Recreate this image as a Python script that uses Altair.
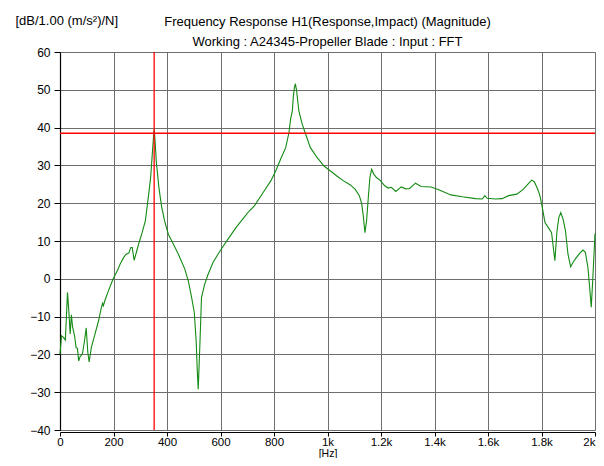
import altair as alt
import pandas as pd

# ---- data (frequency in Hz, magnitude in dB) ----
freq_lo = [0, 5.5, 13, 20, 28, 33, 38, 42.6, 47, 55, 60, 65, 70, 75, 80, 84, 92, 98, 104, 109,
           117, 129, 144, 154, 159, 162, 168.5, 181, 198, 215.5, 225, 237.6, 247, 257, 265, 270,
           277, 282, 294, 307, 319]
db_lo = [-20, -15.1, -15.5, -16.2, -3.6, -8.5, -14.6, -9.5, -12.7, -15.3, -18.2, -18.4, -21.7,
         -20.6, -20.2, -19.8, -16.2, -13, -19.5, -22, -18.2, -15.1, -11.1, -7.8, -6.5, -7.1, -5.6,
         -3.2, -0.1, 2.3, 3.9, 5.6, 6.5, 6.8, 8.3, 8.3, 4.9, 6.1, 9.2, 12.2, 15.3]

freq_r1 = [331, 339, 344, 349, 352, 355, 360, 370, 380, 391, 405, 418, 442.6, 467, 480, 492, 502,
           509, 513, 516.7, 520, 523, 529, 541, 553.7, 572, 590.7, 603]
db_r1 = [22, 27, 32, 37, 39.5, 37, 31, 24, 19, 15.3, 11.8, 10, 6.5, 2.5, -0.7, -4.9, -8.9,
         -16.4, -24, -29.2, -23, -17.3, -4.9, -1.4, 1.2, 4.3, 6.5, 7.9]

freq_r2 = [628, 658.5, 689.6, 708, 726.7, 763.7, 788, 806.7, 825, 843.7, 856, 862, 868.5, 872, 876,
           880, 884, 888, 893, 905.5, 918, 936, 961, 986, 1010, 1035, 1060, 1084, 1103]
db_r2 = [10.5, 13.6, 16.4, 18, 19.3, 23.3, 25.9, 28.6, 31.7, 34.7, 38.7, 42.2, 44.4, 48, 50.5,
         51.6, 50, 47.5, 44.4, 40.9, 38.3, 34.7, 32.1, 29.9, 28.6, 27.2, 25.9, 24.9, 23.7]

freq_mid = [1119, 1128, 1134, 1140, 1146, 1152.6, 1158.5, 1165, 1173, 1183, 1195.6, 1214, 1226.7,
            1239, 1255, 1276, 1292, 1307, 1329, 1350]
db_mid = [22, 19.8, 16.5, 12.2, 15.3, 21.5, 26.8, 29, 27.7, 26.8, 26.1, 24.6, 24, 24.2, 23.1,
          24.3, 23.8, 23.9, 25.3, 24.4]

freq_plat = [1387, 1418, 1461, 1504, 1554, 1578.5, 1588, 1597, 1628, 1652.6, 1677, 1708, 1732.6,
             1751, 1763.6, 1773, 1786, 1794]
db_plat = [24.3, 23.5, 22.2, 21.7, 21.2, 21.1, 22, 21.3, 21.1, 21.2, 22, 22.4, 23.7, 25.2, 26.1,
           25.7, 23.7, 22]

freq_hi = [1803, 1813, 1825, 1837.6, 1850, 1858, 1864.8, 1872, 1880.7, 1889.6, 1899, 1909, 1917.6,
           1930, 1942.6, 1955, 1964, 1973.5, 1980, 1986, 1992, 2000]
db_hi = [18.9, 14.9, 13.6, 12.2, 4.8, 12.7, 16.2, 17.5, 15.8, 12.7, 6.5, 3.2, 4.3, 5.6, 6.7, 7.6,
         7, 3, -2.3, -7.5, 0.3, 12]

cursor_freq = [352]
cursor_db = [38.5]

x_tick_values = [0, 200, 400, 600, 800, 1000, 1200, 1400, 1600, 1800, 2000]
x_tick_labels = ["0", "200", "400", "600", "800", "1k", "1.2k", "1.4k", "1.6k", "1.8k", "2k"]
y_tick_values = [-40, -30, -20, -10, 0, 10, 20, 30, 40, 50, 60]

title_text = "Frequency Response H1(Response,Impact) (Magnitude)"
subtitle_text = "Working : A24345-Propeller Blade : Input : FFT"
y_unit = "[dB/1.00 (m/s²)/N]"
x_unit = "[Hz]"

freq = freq_lo + freq_r1 + freq_r2 + freq_mid + freq_plat + freq_hi
db = db_lo + db_r1 + db_r2 + db_mid + db_plat + db_hi
assert len(freq) == len(db)

df = pd.DataFrame({"f": freq, "db": db})

FONT = "Liberation Sans"
label_expr = "[" + ",".join("'%s'" % s for s in x_tick_labels) + "][round(datum.value/200)]"

x_scale = alt.Scale(domain=[0, 2000], nice=False, zero=False)
y_scale = alt.Scale(domain=[-40, 60], nice=False, zero=False)

x_axis = alt.Axis(values=x_tick_values, labelExpr=label_expr, title=x_unit, offset=2,
                  grid=True, gridColor="#6e6e6e", gridOpacity=1, gridWidth=1,
                  domainColor="black", domainWidth=1.2, tickColor="black", tickSize=4,
                  labelFont=FONT, labelFontSize=11.5, labelColor="black", labelPadding=0,
                  labelFlush=False, labelOverlap=False,
                  labelAlign={"condition": {"test": "datum.value == 2000", "value": "right"},
                              "value": "center"},
                  titleFont=FONT, titleFontSize=10.5, titleFontWeight="normal",
                  titleColor="black", titleBaseline="bottom", titleY=26)
y_axis = alt.Axis(values=y_tick_values, title=y_unit, grid=True, gridColor="#6e6e6e",
                  gridOpacity=1, gridWidth=1, domainColor="black", domainWidth=1.2,
                  tickColor="black", tickSize=6, labelFont=FONT, labelFontSize=12,
                  labelColor="black", labelPadding=4, labelFlush=False, labelOverlap=False,
                  titleFont=FONT, titleFontSize=13, titleFontWeight="normal",
                  titleColor="black", titleAngle=0, titleAlign="left",
                  titleBaseline="middle", titleX=-45, titleY=-32)

line = alt.Chart(df).mark_line(color="#138a13", strokeWidth=1.1).encode(
    x=alt.X("f:Q", scale=x_scale, axis=x_axis),
    y=alt.Y("db:Q", scale=y_scale, axis=y_axis),
)

vrule = alt.Chart(pd.DataFrame({"f": cursor_freq})).mark_rule(
    color="#ff0000", strokeWidth=1.3).encode(x=alt.X("f:Q", scale=x_scale, axis=x_axis))
hrule = alt.Chart(pd.DataFrame({"db": cursor_db})).mark_rule(
    color="#ff0000", strokeWidth=1.3).encode(y=alt.Y("db:Q", scale=y_scale, axis=y_axis))

chart = alt.layer(line, vrule, hrule).properties(
    width=535,
    height=378,
    padding={"left": 52, "top": 44, "right": 1, "bottom": 28},
    autosize="none",
    title=alt.TitleParams(text=title_text, subtitle=subtitle_text, anchor="middle",
                          font=FONT, fontSize=13, fontWeight="normal", color="black",
                          subtitleFont=FONT, subtitleFontSize=13, subtitleColor="black",
                          offset=6, subtitlePadding=7, dy=41),
).configure_view(
    fill="#f3f3f3", stroke="#8c8c8c", strokeWidth=1
).configure(background="white")

chart.save("out.html", embed_options={"renderer": "svg", "actions": False})
